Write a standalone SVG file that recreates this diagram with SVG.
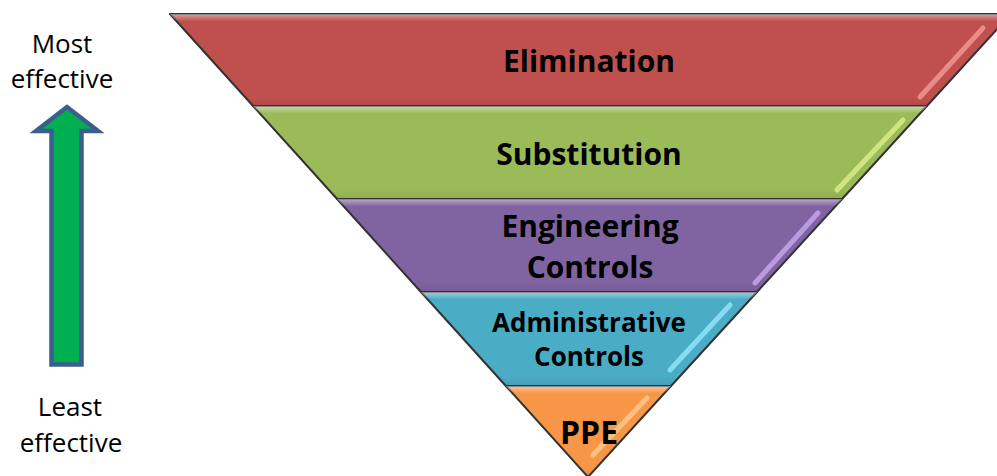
<svg xmlns="http://www.w3.org/2000/svg" width="997" height="476" viewBox="0 0 997 476">
<style>
.band{stroke:#333;stroke-width:2;stroke-linejoin:round}
.gloss{fill:url(#gl);stroke:none}
.shine{fill:none;stroke-width:5;stroke-linecap:round;opacity:0.8}
.lbl{font-family:"Open Sans","Liberation Sans",sans-serif;font-weight:bold;fill:#000;text-anchor:middle}
.side{font-family:"Open Sans","Liberation Sans",sans-serif;font-size:26px;fill:#000;text-anchor:middle}
</style>
<defs>
<linearGradient id="gl" x1="0" y1="0" x2="0" y2="1">
<stop offset="0" stop-color="#fff" stop-opacity="0.45"/>
<stop offset="0.08" stop-color="#fff" stop-opacity="0"/>
<stop offset="0.9" stop-color="#000" stop-opacity="0"/>
<stop offset="1" stop-color="#000" stop-opacity="0.08"/>
</linearGradient>
</defs>
<g id="arrow">
<polygon points="67,107 36,131 51.5,131 51.5,364.5 81.5,364.5 81.5,131 98,131" fill="#00B050" stroke="#3C5E8C" stroke-width="4.5" stroke-linejoin="miter"/>
</g>
<g id="most">
<text class="side" x="62" y="53">Most</text>
<text class="side" x="62" y="88">effective</text>
</g>
<g id="least">
<text class="side" x="70" y="416">Least</text>
<text class="side" x="71" y="452">effective</text>
</g>
<g id="elimination">
<polygon class="band" fill="#C0504D" points="170,14 1011,14 926.9,106 253.1,106"/>
<polygon class="gloss" points="170,14 1011,14 926.9,106 253.1,106"/>
<line class="shine" stroke="#F39A98" x1="920" y1="97" x2="983" y2="28"/>
<text class="lbl" x="589" y="72" font-size="30">Elimination</text>
</g>
<g id="substitution">
<polygon class="band" fill="#9BBB59" points="253.1,106 926.9,106 842.1,199 337.1,199"/>
<polygon class="gloss" points="253.1,106 926.9,106 842.1,199 337.1,199"/>
<line class="shine" stroke="#DDF08C" x1="837" y1="190" x2="903" y2="120"/>
<text class="lbl" x="589" y="165" font-size="30">Substitution</text>
</g>
<g id="engineering">
<polygon class="band" fill="#8064A2" points="337.1,199 842.1,199 757,292 421,292"/>
<polygon class="gloss" points="337.1,199 842.1,199 757,292 421,292"/>
<line class="shine" stroke="#C9A8F2" x1="755" y1="283" x2="818" y2="213"/>
<text class="lbl" x="590" y="237" font-size="30">Engineering</text>
<text class="lbl" x="590" y="278" font-size="30">Controls</text>
</g>
<g id="administrative">
<polygon class="band" fill="#4BACC6" points="421,292 757,292 671,386 505.9,386"/>
<polygon class="gloss" points="421,292 757,292 671,386 505.9,386"/>
<line class="shine" stroke="#95E8FA" x1="670" y1="370" x2="730" y2="305"/>
<text class="lbl" x="589" y="332" font-size="26">Administrative</text>
<text class="lbl" x="589" y="366" font-size="26">Controls</text>
</g>
<g id="ppe">
<polygon class="band" fill="#F79646" points="505.9,386 671,386 588,477"/>
<polygon class="gloss" points="505.9,386 671,386 588,477"/>
<line class="shine" stroke="#FFCB90" x1="593" y1="455" x2="647" y2="398"/>
<text class="lbl" x="589" y="444" font-size="32">PPE</text>
</g>
<g id="connectors"/>
</svg>
